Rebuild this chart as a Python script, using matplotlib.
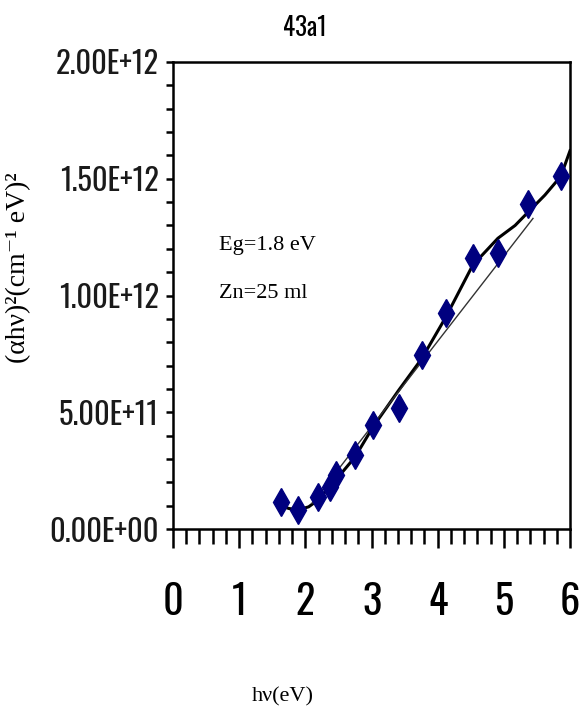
import numpy as np
import matplotlib
matplotlib.use("Agg")
from matplotlib import pyplot as plt
from matplotlib.ticker import MultipleLocator

# measured points: photon energy (eV) and (alpha h nu)^2
hv = [1.63, 1.89, 2.19, 2.37, 2.46, 2.75, 3.02, 3.41, 3.76, 4.12, 4.53, 4.91, 5.36, 5.86]
ahv2 = [0.115e12, 0.081e12, 0.137e12, 0.180e12, 0.230e12, 0.316e12, 0.444e12,
        0.520e12, 0.744e12, 0.923e12, 1.162e12, 1.180e12, 1.393e12, 1.513e12]

# smoothed trend through the data
curve_x = [1.63, 1.75, 1.89, 2.05, 2.19, 2.46, 2.75, 3.02, 3.41, 3.76, 4.12, 4.53,
           4.91, 5.17, 5.36, 5.62, 5.86, 6.0]
curve_y = [0.10e12, 0.088e12, 0.082e12, 0.095e12, 0.124e12, 0.21e12, 0.308e12, 0.436e12,
           0.594e12, 0.73e12, 0.906e12, 1.13e12, 1.245e12, 1.30e12, 1.355e12, 1.43e12,
           1.51e12, 1.62e12]

# linear extrapolation used for the band gap
fit_x = [2.1, 5.44]
fit_y = [0.11e12, 1.33e12]

y_ticks = [0, 0.5e12, 1.0e12, 1.5e12, 2.0e12]
y_labels = ["0.00E+00", "5.00E+11", "1.00E+12", "1.50E+12", "2.00E+12"]

narrow = ["Oswald", "Roboto Condensed", "DejaVu Sans"]
serif = ["Liberation Serif", "DejaVu Serif"]

fig = plt.figure(figsize=(5.79, 7.24), dpi=100)
ax = fig.add_axes([0.2988, 0.2693, 0.6857, 0.6451])

ax.plot(curve_x, curve_y, color="black", lw=2.2, zorder=2)
ax.plot(fit_x, fit_y, color="#333333", lw=1.0, zorder=2)
ax.plot(hv, ahv2, linestyle="none", marker="d", markersize=14,
        color="#00007f", zorder=3)

ax.set_xlim(0, 6)
ax.set_ylim(0, 2.0e12)
ax.xaxis.set_major_locator(MultipleLocator(1))
ax.xaxis.set_minor_locator(MultipleLocator(0.2))
ax.set_yticks(y_ticks)
ax.set_yticklabels(y_labels)
ax.yaxis.set_minor_locator(MultipleLocator(0.1e12))

for s in ax.spines.values():
    s.set_linewidth(1.8)

ax.tick_params(axis="x", which="major", direction="out", length=14, width=1.8, pad=24)
ax.tick_params(axis="x", which="minor", direction="out", length=11, width=1.8)
ax.tick_params(axis="y", which="both", direction="out", length=5, width=1.8, pad=5)

for lab in ax.get_xticklabels():
    lab.set_family(narrow)
    lab.set_fontsize(29)
for lab in ax.get_yticklabels():
    lab.set_family(narrow)
    lab.set_fontsize(22)
    lab.set_color("#1a1a1a")

fig.text(0.527, 0.962, "43a1", family=narrow, fontsize=18, ha="center", va="center")
fig.text(0.489, 0.037, "hν(eV)", family=serif, fontsize=16, ha="center", va="center")
fig.text(0.032, 0.63, "(αhν)²(cm⁻¹ eV)²", family=serif, fontsize=20,
         rotation=90, ha="center", va="center")

ax.text(0.115, 0.608, "Eg=1.8 eV", transform=ax.transAxes, family=serif, fontsize=16,
        va="center")
ax.text(0.115, 0.505, "Zn=25 ml", transform=ax.transAxes, family=serif, fontsize=16,
        va="center")

fig.savefig("out.png", dpi=100)
